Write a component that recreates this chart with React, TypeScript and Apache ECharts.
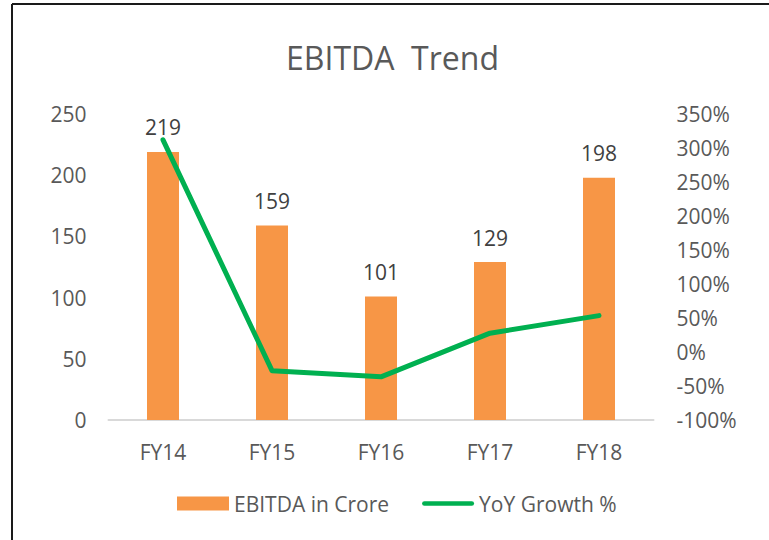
import React, { useEffect, useRef } from "react";
import * as echarts from "echarts";

const categories = ["FY14", "FY15", "FY16", "FY17", "FY18"];
const ebitda = [219, 159, 101, 129, 198];
const yoyGrowth = [3.12, -0.274, -0.365, 0.277, 0.535];
const leftTicks = { min: 0, max: 250, interval: 50 };
const rightTicks = { min: -1, max: 3.5, interval: 0.5 };

const FONT = "'Open Sans', sans-serif";
const TXT = "#595959";

export default function App() {
  const ref = useRef<HTMLDivElement>(null);
  useEffect(() => {
    if (!ref.current) return;
    const chart = echarts.init(ref.current, undefined, { renderer: "svg" });
    chart.setOption({
      animation: false,
      backgroundColor: "#ffffff",
      textStyle: { fontFamily: FONT },
      title: {
        text: "EBITDA  Trend",
        left: 281,
        top: 36,
        textStyle: { fontFamily: FONT, fontSize: 32, fontWeight: "normal", color: TXT },
      },
      graphic: [
        { type: "line", shape: { x1: 12, y1: 4, x2: 769, y2: 4 }, style: { stroke: "#1a1a1a", lineWidth: 2 } },
        { type: "line", shape: { x1: 12, y1: 4, x2: 12, y2: 540 }, style: { stroke: "#1a1a1a", lineWidth: 2 } },
      ],
      legend: {
        bottom: 21,
        left: 172,
        itemWidth: 52,
        itemHeight: 14,
        itemGap: 33,
        textStyle: { fontFamily: FONT, fontSize: 21, color: TXT },
        data: [
          { name: "EBITDA in Crore", icon: "rect" },
          {
            name: "YoY Growth %",
            icon: "path://M2.5,0 H53.5 A2.5,2.5 0 0 1 53.5,5 H2.5 A2.5,2.5 0 0 1 2.5,0 Z",
            itemStyle: { color: "#00B050" },
          },
        ],
      },
      grid: { left: 108.5, right: 115.5, top: 114, bottom: 120 },
      xAxis: {
        type: "category",
        data: categories,
        axisLine: { lineStyle: { color: "#D9D9D9", width: 2 } },
        axisTick: { show: false },
        axisLabel: { fontFamily: FONT, fontSize: 21, color: TXT, margin: 21 },
      },
      yAxis: [
        {
          type: "value",
          min: leftTicks.min,
          max: leftTicks.max,
          interval: leftTicks.interval,
          splitLine: { show: false },
          axisLine: { show: false },
          axisTick: { show: false },
          axisLabel: { fontFamily: FONT, fontSize: 21, color: TXT, margin: 22 },
        },
        {
          type: "value",
          min: rightTicks.min,
          max: rightTicks.max,
          interval: rightTicks.interval,
          splitLine: { show: false },
          axisLine: { show: false },
          axisTick: { show: false },
          axisLabel: {
            fontFamily: FONT,
            fontSize: 21,
            color: TXT,
            margin: 23,
            formatter: (v: number) => `${Math.round(v * 100)}%`,
          },
        },
      ],
      series: [
        {
          name: "EBITDA in Crore",
          type: "bar",
          data: ebitda,
          barWidth: 32,
          itemStyle: { color: "#F79646" },
          label: {
            show: true,
            position: "top",
            distance: 14,
            fontFamily: FONT,
            fontSize: 21,
            color: "#404040",
          },
        },
        {
          name: "YoY Growth %",
          type: "line",
          yAxisIndex: 1,
          data: yoyGrowth,
          symbol: "none",
          lineStyle: { color: "#00B050", width: 5, cap: "round", join: "round" },
          itemStyle: { color: "#00B050" },
        },
      ],
    });
    return () => chart.dispose();
  }, []);
  return (
    <div
      ref={ref}
      style={{ position: "absolute", left: 0, top: 0, width: 769, height: 540 }}
    />
  );
}
